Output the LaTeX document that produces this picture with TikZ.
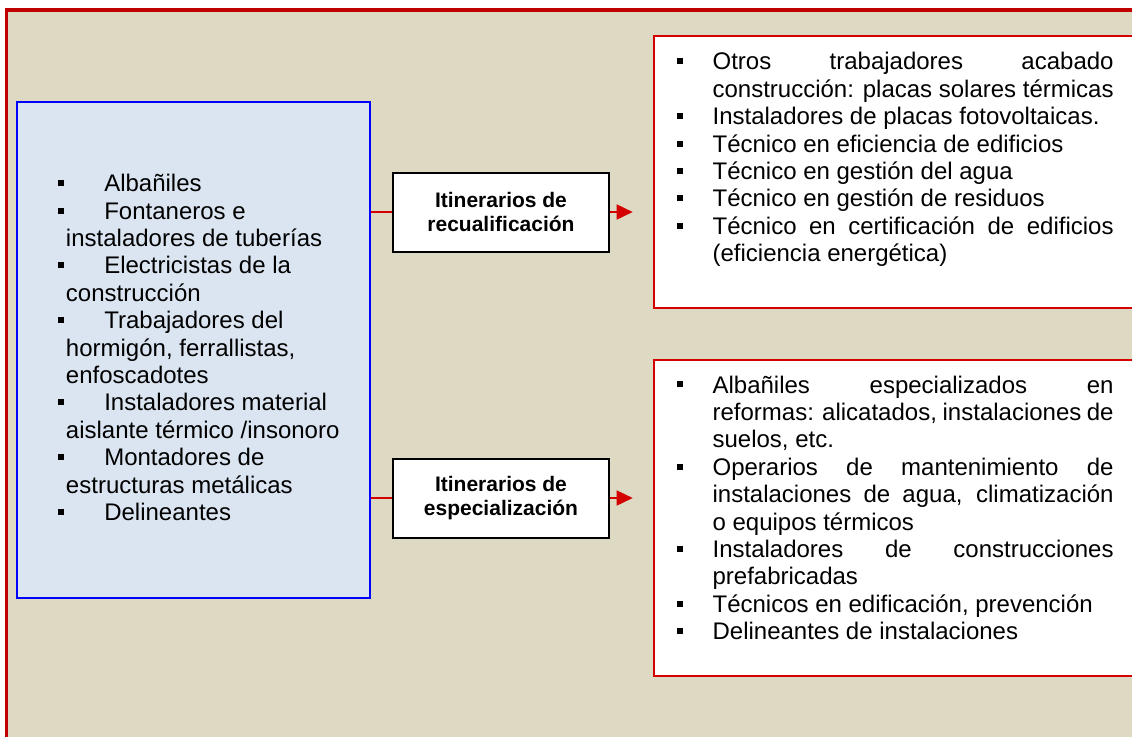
\documentclass[tikz,border=0pt]{standalone}
\usepackage{fontspec}
\setmainfont{Liberation Sans}
\usepackage{xcolor}
\usepackage{tikz}
\usetikzlibrary{arrows.meta,positioning}

\definecolor{tanbg}{HTML}{DDD9C3}
\definecolor{paleblue}{HTML}{DBE5F1}
\definecolor{framered}{HTML}{C00000}
\definecolor{linered}{HTML}{D40000}

\newcommand{\bsq}{\raisebox{2.8pt}{\rule{3pt}{3pt}}}
\newcommand{\litem}{\par\noindent\hspace*{-3.85pt}\makebox[23pt][l]{\bsq}}
\newcommand{\ritem}{\par\noindent\hspace*{-17.85pt}\makebox[17.85pt][l]{\bsq}}

\hyphenpenalty=10000 \exhyphenpenalty=10000 \hbadness=10000

\begin{document}
\begin{tikzpicture}[x=0.5pt, y=-0.5pt,
  srcbox/.style={draw=blue, line width=1pt, fill=paleblue, inner sep=0pt, anchor=north west, font=\fontsize{12pt}{13.7pt}\selectfont},
  itbox/.style={draw=black, line width=1pt, fill=white, minimum width=108pt, minimum height=39.5pt, inner sep=0pt, align=center, font=\bfseries\fontsize{10.5pt}{12.4pt}\selectfont},
  outbox/.style={draw=linered, line width=0.9pt, fill=white, inner sep=0pt, font=\fontsize{12pt}{13.7pt}\selectfont},
  conn/.style={draw=linered, line width=0.8pt},
]
\useasboundingbox (0,0) rectangle (1132,736);
\clip (0,0) rectangle (1132,736);
\fill[white] (0,0) rectangle (1132,736);
\draw[draw=framered, line width=1.75pt, fill=tanbg] (6.7,10) rectangle (1200,800);

% trades on the left
\node[srcbox] (src) at (16,101) {\parbox[t][248pt][t]{176.5pt}{\leftskip=24.5pt \rightskip=0pt plus 1fil
  \litem\rule{0pt}{44.85pt}Albañiles
  \litem Fontaneros e\newline instaladores de tuberías
  \litem Electricistas de la\newline construcción
  \litem Trabajadores del\newline hormigón, ferrallistas,\newline enfoscadotes
  \litem Instaladores material\newline aislante térmico /insonoro
  \litem Montadores de\newline estructuras metálicas
  \litem Delineantes}};

% the two itineraries
\node[itbox] (it1) at (501,212) {Itinerarios de\\recualificación};
\node[itbox] (it2) at (501,498) {Itinerarios de\\especialización};

% resulting occupations
\node[outbox, anchor=north west] (out1) at (652.7,35) {\parbox[t][136.15pt][t]{243.65pt}{\leftskip=29.5pt \rightskip=13.65pt \parfillskip=0pt plus 1fil
  \ritem\rule{0pt}{17pt}Otros trabajadores acabado\linebreak construcción: placas solares térmicas
  \ritem Instaladores de placas fotovoltaicas.
  \ritem Técnico en eficiencia de edificios
  \ritem Técnico en gestión del agua
  \ritem Técnico en gestión de residuos
  \ritem Técnico en certificación de edificios\linebreak (eficiencia energética)}};
\node[outbox, below=25pt of out1] (out2) {\parbox[t][158pt][t]{243.65pt}{\leftskip=29.5pt \rightskip=13.65pt \parfillskip=0pt plus 1fil
  \ritem\rule{0pt}{16.5pt}Albañiles especializados en\linebreak reformas: alicatados, instalaciones de\linebreak suelos, etc.
  \ritem Operarios de mantenimiento de\linebreak instalaciones de agua, climatización\linebreak o equipos térmicos
  \ritem Instaladores de construcciones\linebreak prefabricadas
  \ritem Técnicos en edificación, prevención
  \ritem Delineantes de instalaciones}};

\draw[conn] (src.east |- it1.west) -- (it1.west);
\draw[conn, -{Triangle[length=8pt,width=7.5pt]}, shorten >=10pt] (it1.east) -- (it1.east -| out1.west);
\draw[conn] (src.east |- it2.west) -- (it2.west);
\draw[conn, -{Triangle[length=8pt,width=7.5pt]}, shorten >=10pt] (it2.east) -- (it2.east -| out2.west);
\end{tikzpicture}
\end{document}
